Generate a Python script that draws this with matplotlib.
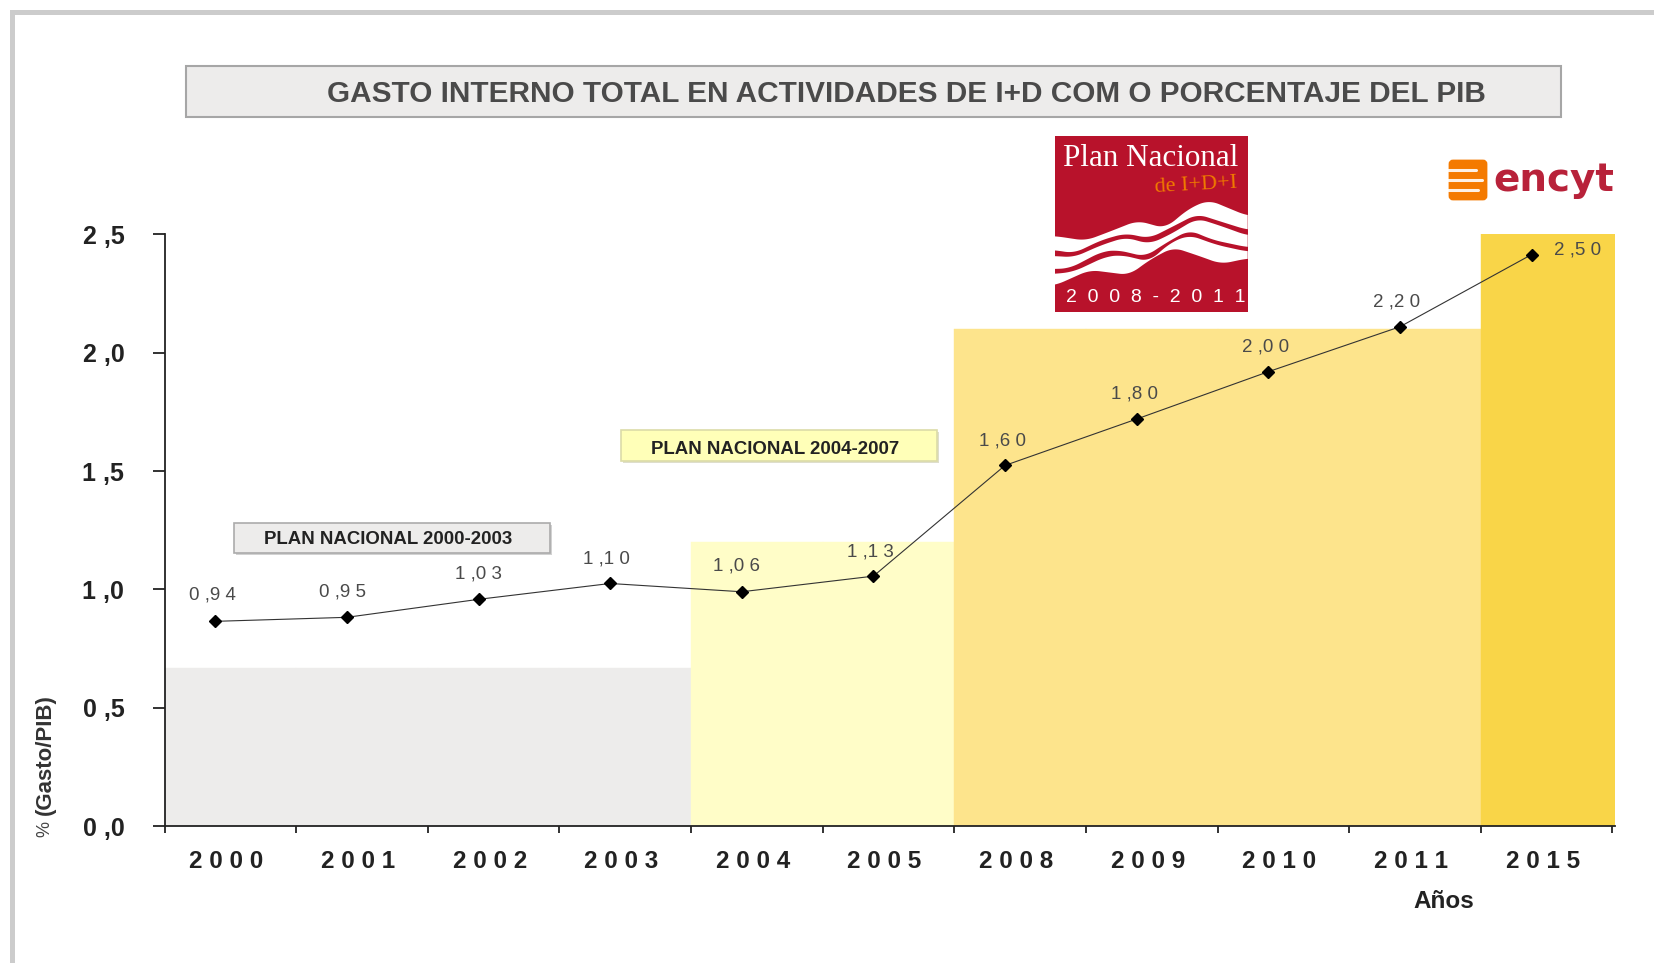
import matplotlib

matplotlib.use("Agg")
import matplotlib.pyplot as plt
import matplotlib.patches as patches
import numpy as np

plt.rcParams["font.family"] = ["Liberation Sans", "DejaVu Sans"]

years = ["2000", "2001", "2002", "2003", "2004", "2005", "2008", "2009", "2010", "2011", "2015"]
# heights as drawn, the printed labels do not sit on the same scale
values = [0.865, 0.882, 0.958, 1.025, 0.99, 1.056, 1.524, 1.72, 1.92, 2.11, 2.415]
value_labels = ["0 ,9 4", "0 ,9 5", "1 ,0 3", "1 ,1 0", "1 ,0 6", "1 ,1 3", "1 ,6 0", "1 ,8 0", "2 ,0 0", "2 ,2 0", "2 ,5 0"]
label_offsets = [(-3, 26), (-4, 25), (0, 25), (-4, 24), (-5, 26), (-3, 24), (-3, 24), (-2, 25), (-3, 25), (-3, 25), (46, 5)]
plan_tops = [0.668, 0.668, 0.668, 0.668, 1.2, 1.2, 2.1, 2.1, 2.1, 2.1, 2.5]
plan_colors = ["#EDECEB"] * 4 + ["#FFFDC8"] * 2 + ["#FDE48C"] * 4 + ["#F9D548"]
y_ticks = [0.0, 0.5, 1.0, 1.5, 2.0, 2.5]
y_tick_labels = ["0 ,0", "0 ,5", "1 ,0", "1 ,5", "2 ,0", "2 ,5"]

W, H = 1654, 963
fig = plt.figure(figsize=(W / 100, H / 100), dpi=100, facecolor="white")

# main chart
ax = fig.add_axes([164.6 / W, (H - 826) / H, 1450.5 / W, 591.5 / H])
pos = np.arange(len(years))
bar_widths = np.ones(len(years))
bar_widths[-1] = 1.02
ax.bar(pos, plan_tops, width=bar_widths, align="edge", color=plan_colors, edgecolor=plan_colors, linewidth=0.3, zorder=1)
ax.plot(pos + 0.385, values, "-", color="#333333", lw=0.8, marker="D", ms=6, mfc="black", mec="black", zorder=3)
for i in range(len(years)):
    ax.annotate(value_labels[i], (pos[i] + 0.385, values[i]), xytext=label_offsets[i],
                textcoords="offset pixels", ha="center", va="center", fontsize=13.5, color="#4a4a4a", zorder=4)

ax.set_xlim(0, 11.02)
ax.set_ylim(0, 2.5)
ax.set_xticks(np.arange(12))
ax.set_xticklabels([])
ax.set_xticks(pos + 0.47, [" ".join(y) for y in years], minor=True)
ax.set_yticks(y_ticks, y_tick_labels)
ax.tick_params(axis="x", which="major", length=5, width=1.3, color="#222222")
ax.tick_params(axis="x", which="minor", length=0, pad=17, labelsize=17.5, labelcolor="#222222")
ax.tick_params(axis="y", length=9, width=1.3, color="#222222", pad=20, labelsize=18, labelcolor="#222222")
for t in ax.get_xticklabels(minor=True) + ax.get_yticklabels():
    t.set_fontweight("bold")
ax.spines["top"].set_visible(False)
ax.spines["right"].set_visible(False)
ax.spines["left"].set_linewidth(1.3)
ax.spines["bottom"].set_linewidth(1.3)
ax.spines["left"].set_color("#222222")
ax.spines["bottom"].set_color("#222222")

# overlay in pixel coordinates for the frame, title box and logos
ov = fig.add_axes([0, 0, 1, 1], facecolor="none", zorder=5)
ov.set_xlim(0, W)
ov.set_ylim(H, 0)
ov.axis("off")


def box(x0, y0, x1, y1, fc, ec="none", lw=0, z=2):
    ov.add_patch(patches.Rectangle((x0, y0), x1 - x0, y1 - y0, facecolor=fc, edgecolor=ec, linewidth=lw, zorder=z))


# page frame
box(10, 10, W, 15, "#CCCCCC")
box(10, 10, 15, H, "#CCCCCC")

# title
box(185.5, 66.5, 1561, 117.5, "#EDECEB", "#A6A6A6", 1.5)
ov.text(906, 93.5, "GASTO INTERNO TOTAL EN ACTIVIDADES DE I+D COM O PORCENTAJE DEL PIB",
        ha="center", va="center", fontsize=21.4, color="#4a4a4a", fontweight="bold", zorder=3)

# plan boxes
box(236, 525, 552, 555, "#D2D2D2", z=2)
box(234, 523, 550, 553, "#EDECEB", "#ABABAB", 1.2, z=3)
ov.text(388, 539.5, "PLAN NACIONAL 2000-2003", ha="center", va="center", fontsize=13.4, fontweight="bold", color="#222222", zorder=4)
box(623, 432, 939, 463, "#DEDECC", z=2)
box(621, 430, 937, 461, "#FFFFB8", "#DCDCA8", 1.2, z=3)
ov.text(775, 449.5, "PLAN NACIONAL 2004-2007", ha="center", va="center", fontsize=13.4, fontweight="bold", color="#222222", zorder=4)

# axis captions
ov.text(1444, 901, "Años", ha="center", va="center", fontsize=17.5, fontweight="bold", color="#222222")
ov.text(45, 755, "(Gasto/PIB)", rotation=90, ha="center", va="center", fontsize=16, fontweight="bold", color="#333333")
ov.text(45, 829, "%", rotation=90, ha="center", va="center", fontsize=13, color="#444444")

# Plan Nacional logo
RED = "#B8122B"
box(1055, 136, 1248, 312.5, RED)


def wave(points):
    # smooth the sketched outline of one logo wave
    pts = np.array(points, dtype=float)
    xs = np.linspace(pts[0, 0], pts[-1, 0], 300)
    ys = np.interp(xs, pts[:, 0], pts[:, 1])
    k = 15
    ys = np.convolve(np.pad(ys, k, mode="edge"), np.ones(2 * k + 1) / (2 * k + 1), mode="valid")
    return 1030 + xs / 2.513, 120 + ys / 3


bands = [
    ([(62, 348), (140, 362), (200, 335), (270, 302), (340, 325), (400, 265), (450, 240), (500, 265), (547, 288)],
     [(62, 390), (110, 400), (180, 360), (240, 340), (300, 355), (350, 325), (420, 282), (480, 305), (547, 330)]),
    ([(62, 408), (110, 412), (180, 375), (240, 352), (300, 372), (350, 345), (420, 295), (480, 318), (547, 347)],
     [(62, 447), (100, 445), (180, 395), (220, 390), (290, 410), (340, 370), (400, 330), (460, 360), (547, 382)]),
    ([(62, 462), (110, 455), (190, 410), (230, 405), (300, 425), (350, 370), (400, 345), (470, 375), (547, 395)],
     [(62, 497), (150, 450), (250, 465), (300, 420), (360, 382), (430, 410), (480, 432), (547, 415)]),
]
for upper, lower in bands:
    xu, yu = wave(upper)
    xl, yl = wave(lower)
    ov.fill(np.r_[xu, xl[::-1]], np.r_[yu, yl[::-1]], color="white", lw=0, zorder=3)

ov.text(1151, 159, "Plan Nacional", family="Liberation Serif", ha="center", va="center", fontsize=22.4, color="white", zorder=4)
ov.text(1238, 185, "de I+D+I", family="Liberation Serif", ha="right", va="center", fontsize=16, color="#F07A00", rotation=3, zorder=4)
ov.text(1156, 297, "2  0  0  8  -  2  0  1  1", ha="center", va="center", fontsize=14, color="white", zorder=4)

# encyt logo
ov.add_patch(patches.FancyBboxPatch((1450, 161), 36, 38, boxstyle="round,pad=0,rounding_size=3", facecolor="#F47A00", edgecolor="#F47A00", lw=2, zorder=3))
for yy, x0, x1 in [(170, 1448, 1476), (180, 1448, 1482), (190, 1448, 1478)]:
    ov.plot([x0, x1], [yy, yy], color="white", lw=2.2, alpha=0.9, zorder=4, solid_capstyle="round")
ov.text(1554, 180, "encyt", ha="center", va="center", fontsize=28, fontweight="bold", family="DejaVu Sans", color="#B8223A", zorder=4)

fig.savefig("out.png", dpi=100)
